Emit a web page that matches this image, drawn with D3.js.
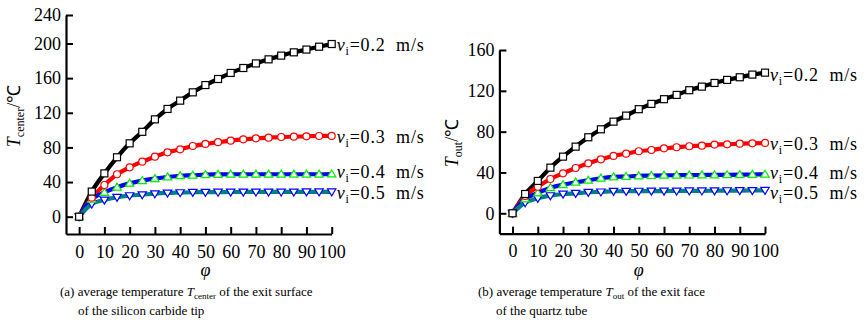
<!DOCTYPE html>
<html><head><meta charset="utf-8">
<script src="https://cdn.jsdelivr.net/npm/d3@7/dist/d3.min.js"></script>
<style>
html,body{margin:0;padding:0;background:#fff;}
svg, svg text{font-family:"Liberation Serif","Times New Roman",Tinos,serif;}
</style></head>
<body>
<svg id="c" width="868" height="323"></svg>
<script>
// ---- data ----
const phi = [0,5,10,15,20,25,30,35,40,45,50,55,60,65,70,75,80,85,90,95,100];
const xTicks = [0,10,20,30,40,50,60,70,80,90,100];
const speeds = ["0.2","0.3","0.4","0.5"];

// (a) T_center
const center02 = [0,29,50,68.6,84.7,98,112.4,124.4,134,143.6,152,159,166,171.7,177,181.7,186,189.8,193,196.3,199.4];
const center03 = [0,22,36.6,49,57,63.5,69.3,74.3,77.8,81.6,84,86,87.8,89.3,90.5,91.2,92,92.4,92.8,93.2,93.3];
const center04 = [0,20,28,34,38.5,41.6,43.9,45.8,47.3,47.8,48.5,48.8,49,49,49,49,49,49,49,49,49.2];
const center05 = [0,14.7,19.3,22.4,24.3,25.4,26.6,27.4,27.8,28.2,28.3,28.4,28.5,28.5,28.6,28.6,28.6,28.6,28.7,28.7,28.7];
const centerTicks = [0,40,80,120,160,200,240];

// (b) T_out
const out02 = [0,18.9,31.7,44.7,55.5,65.3,74.5,82.3,89.8,95.7,102,107.2,111.8,116,120.6,124.1,127.7,130.7,133.3,135.9,137.8];
const out03 = [0,17,26,33.6,39.2,44.4,49,52.9,56.2,58.4,60.8,62,63.7,64.7,65.7,66.3,67.3,67.6,68.2,68.6,68.9];
const out04 = [0,14,19.9,25.1,28,30.4,32.3,34.3,35.6,36,36.6,36.9,37.2,37.3,37.4,37.5,37.6,37.7,37.8,38,38.2];
const out05 = [0,10.4,14.7,17.3,18.9,19.6,20.6,21,21.6,21.6,21.7,21.8,21.8,21.9,22,22,22.1,22.2,22.3,22.4,22.5];
const outTicks = [0,40,80,120,160];

// ---- styles ----
const SERIF = '"Liberation Serif","Times New Roman",Tinos,serif';
const lineColors = ["#000000","#ff0000","#0000ff","#008080"];
const markColors = ["#000000","#ff0000","#00ee00","#0000ff"];
const markTypes = ["square","circle","triangle","down"];
const FONT = 18;

const svg = d3.select("#c");

function marker(g, type, color, x, y){
  const s = 3.5;
  if(type==="square"){
    g.append("rect").attr("x",x-s).attr("y",y-s).attr("width",2*s).attr("height",2*s)
     .attr("fill","#fff").attr("stroke",color).attr("stroke-width",1.2);
  } else if(type==="circle"){
    g.append("circle").attr("cx",x).attr("cy",y).attr("r",s)
     .attr("fill","#fff").attr("stroke",color).attr("stroke-width",1.2);
  } else {
    const h = 4.1, w = 4.2;
    const pts = type==="triangle"
      ? [[x,y-h],[x+w,y+h*0.7],[x-w,y+h*0.7]]
      : [[x,y+h],[x+w,y-h*0.7],[x-w,y-h*0.7]];
    g.append("path").attr("d","M"+pts.map(p=>p.join(",")).join("L")+"Z")
     .attr("fill","#fff").attr("stroke",color).attr("stroke-width",1.2);
  }
}

function txt(sel, size){
  return sel.attr("font-family",SERIF).style("font-family",SERIF).style("font-size",size+"px").attr("fill","#000");
}

function panel(opt){
  const g = svg.append("g");
  const x = d3.scaleLinear().domain([-5.2,100]).range(opt.xr);
  const y = d3.scaleLinear().domain(opt.yd).range(opt.yr);

  // series
  const line = d3.line().x((d,i)=>x(phi[i])).y(d=>y(d)).curve(d3.curveMonotoneX);
  opt.series.forEach((s,k)=>{
    g.append("path").attr("d",line(s)).attr("fill","none")
     .attr("stroke",lineColors[k]).attr("stroke-width",4.2).attr("stroke-linejoin","round");
  });
  opt.series.slice().reverse().forEach((s,kr)=>{
    const k = opt.series.length-1-kr;
    s.forEach((v,i)=>marker(g, markTypes[k], markColors[k], x(phi[i]), y(v)));
  });

  // axes
  const ax = g.append("g").attr("transform",`translate(0,${opt.yr[0]})`)
    .call(d3.axisBottom(x).tickValues(xTicks).tickSizeInner(-7).tickSizeOuter(0).tickPadding(11));
  const ay = g.append("g").attr("transform",`translate(${opt.xr[0]},0)`)
    .call(d3.axisLeft(y).tickValues(opt.yTicks).tickSizeInner(-7).tickSizeOuter(0).tickPadding(5));
  [ax,ay].forEach(a=>{
    a.attr("font-family",SERIF).attr("font-size",FONT);
    a.select(".domain").attr("stroke","#000").attr("stroke-width",2.2);
    a.selectAll(".tick line").attr("stroke","#000").attr("stroke-width",2);
    txt(a.selectAll(".tick text"), FONT);
  });

  // y title
  const yt = txt(g.append("text").attr("transform",`translate(${opt.ytx},${opt.yty}) rotate(-90)`)
    .attr("text-anchor","middle"), FONT);
  yt.append("tspan").attr("font-style","italic").text("T");
  yt.append("tspan").attr("font-size","12px").attr("dy",4).text(opt.sub);
  yt.append("tspan").attr("dy",-4).text("/\u2103");

  // x title
  txt(g.append("text").attr("x",(x(0)+x(100))/2).attr("y",276).attr("text-anchor","middle")
   .attr("font-style","italic"), FONT).text("\u03c6");

  // series labels
  opt.series.forEach((s,k)=>{
    const t = txt(g.append("text").attr("x",x(100)+5).attr("y",y(s[s.length-1])+opt.lblDy[k]+6), 18)
      .style("letter-spacing","0.8px");
    t.append("tspan").attr("font-style","italic").text("v");
    t.append("tspan").attr("font-size","12px").attr("dy",4).text("i");
    t.append("tspan").attr("dy",-4).text("=" + speeds[k] + "\u00a0 m/s");
  });

  // caption
  const c1 = txt(g.append("text").attr("x",opt.capX).attr("y",296), 13);
  c1.append("tspan").text(opt.cap1a);
  c1.append("tspan").attr("font-style","italic").text("T");
  c1.append("tspan").attr("font-size","9px").attr("dy",2.5).text(opt.sub);
  c1.append("tspan").attr("dy",-2.5).text(opt.cap1b);
  txt(g.append("text").attr("x",opt.capX+18).attr("y",315), 13).text(opt.cap2);
}

panel({
  xr:[66,331.7], yd:[-20,200,240], yr:[234,43.5,15], yTicks:centerTicks,
  series:[center02,center03,center04,center05], sub:"center", ytx:20, yty:116,
  lblDy:[1,1,-2.3,1], capX:60,
  cap1a:"(a) average temperature ", cap1b:" of the exit surface", cap2:"of the silicon carbide tip"
});
panel({
  xr:[499.4,765], yd:[-20,160], yr:[233.7,50], yTicks:outTicks,
  series:[out02,out03,out04,out05], sub:"out", ytx:458, yty:143,
  lblDy:[2.4,1,-1.5,3], capX:478,
  cap1a:"(b) average temperature ", cap1b:" of the exit face", cap2:"of the quartz tube"
});
</script>
</body></html>
